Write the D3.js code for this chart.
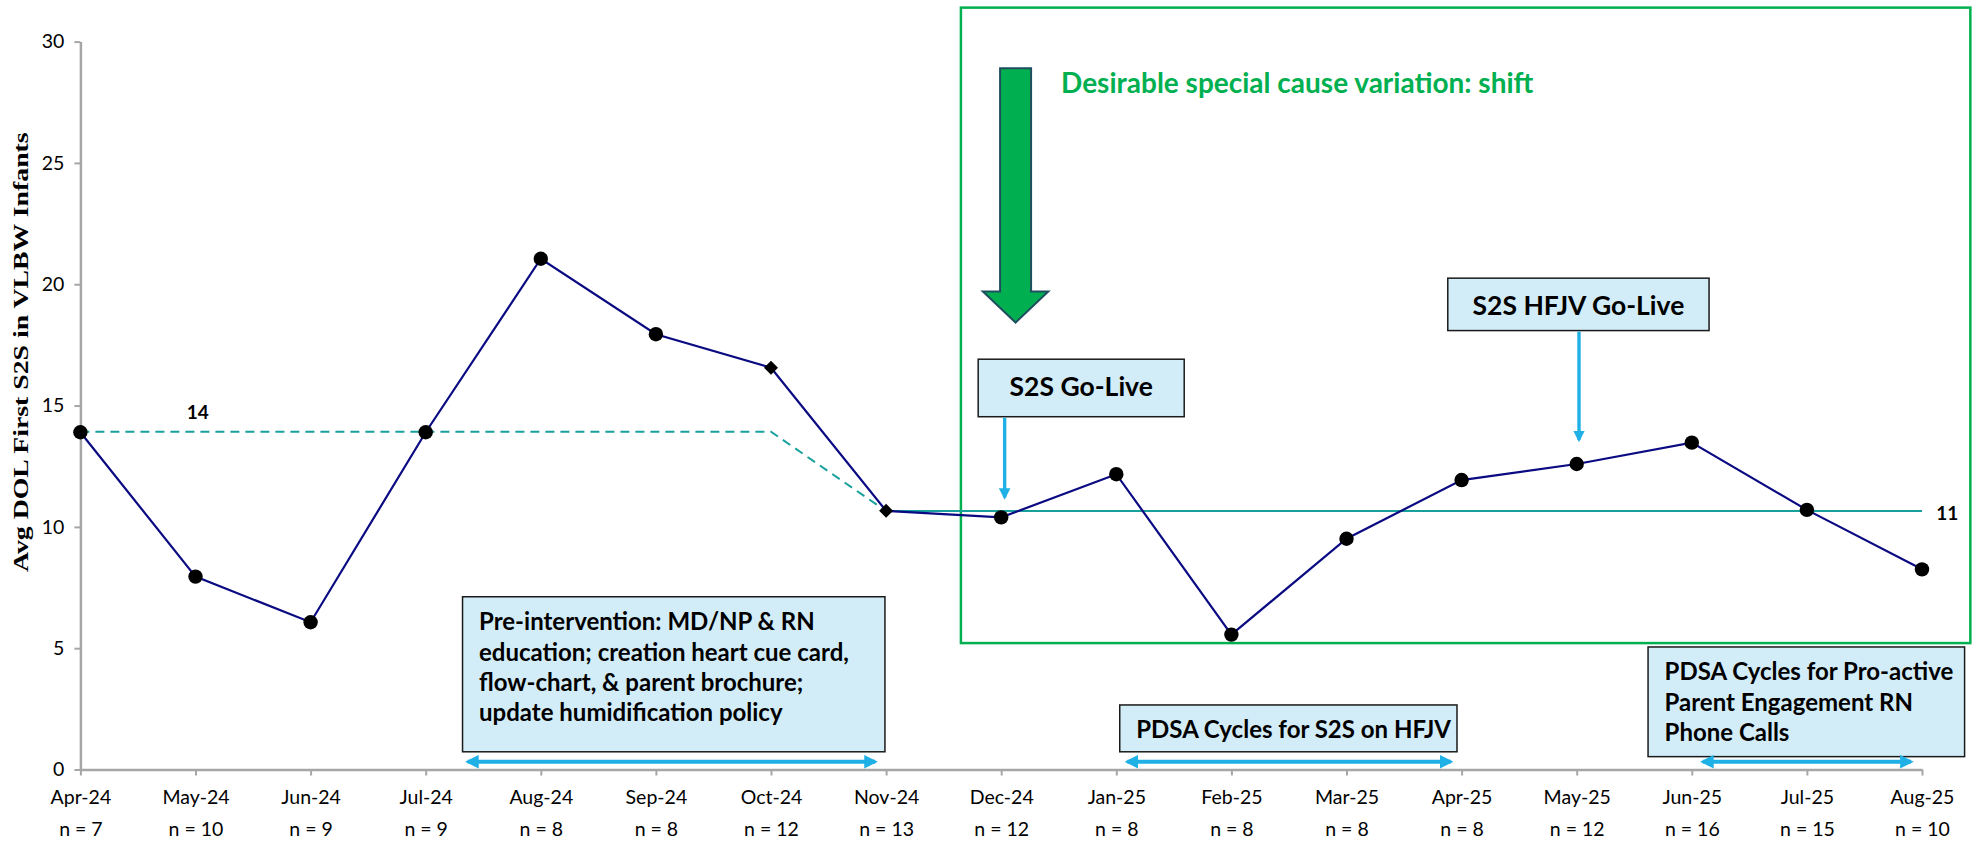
<!DOCTYPE html>
<html>
<head>
<meta charset="utf-8">
<script src="https://cdn.jsdelivr.net/npm/d3@7"></script>
<style>
  body { margin: 0; background: #fff; }
  text { font-family: Lato, "Open Sans", sans-serif; }
</style>
</head>
<body>
<script>
// monthly data
var months = ['Apr-24', 'May-24', 'Jun-24', 'Jul-24', 'Aug-24', 'Sep-24', 'Oct-24', 'Nov-24', 'Dec-24',
  'Jan-25', 'Feb-25', 'Mar-25', 'Apr-25', 'May-25', 'Jun-25', 'Jul-25', 'Aug-25'];
var counts = [7, 10, 9, 9, 8, 8, 12, 13, 12, 8, 8, 8, 8, 12, 16, 15, 10];
var avgDol = [13.9, 7.95, 6.07, 13.9, 21.05, 17.94, 16.56, 10.66, 10.39, 12.17, 5.56, 9.51, 11.93, 12.59, 13.47, 10.7, 8.25];
var diamondMonths = ['Oct-24', 'Nov-24'];

// center lines
var preMean = 13.92, preLabel = '14';
var postMean = 10.65, postLabel = '11';
var yTicks = [0, 5, 10, 15, 20, 25, 30];

var width = 1978, height = 845;
var margin = { left: 80.4, top: 41.6, right: 56, bottom: 75.5 };
var W = width - margin.left - margin.right;
var H = height - margin.top - margin.bottom;

var svg = d3.select('body').append('svg').attr('width', width).attr('height', height);
var g = svg.append('g').attr('transform', 'translate(' + margin.left + ',' + margin.top + ')');

var x = d3.scaleLinear().domain([0, months.length - 1]).range([0, W]);
var y = d3.scaleLinear().domain([0, 30]).range([H, 0]);

var lightBlue = '#1fb0e6';
var boxFill = '#d3edf8';
var green = '#00b050';

svg.append('defs').append('marker')
  .attr('id', 'head').attr('viewBox', '0 0 10 10').attr('refX', 8).attr('refY', 5)
  .attr('markerWidth', 3.4).attr('markerHeight', 3.6).attr('markerUnits', 'strokeWidth')
  .attr('orient', 'auto-start-reverse')
  .append('path').attr('d', 'M0,0L10,5L0,10Z').attr('fill', lightBlue);

// axes
var yAxis = g.append('g').call(d3.axisLeft(y).tickValues(yTicks).tickSize(6).tickPadding(10).tickSizeOuter(0));
var xAxis = g.append('g').attr('transform', 'translate(0,' + H + ')')
  .call(d3.axisBottom(x).tickValues(d3.range(months.length)).tickFormat(function (i) { return months[i]; })
    .tickSize(6).tickPadding(14.5).tickSizeOuter(0));
[yAxis, xAxis].forEach(function (a) {
  a.select('.domain').attr('stroke', '#a6a6a6').attr('stroke-width', 2.5);
  a.selectAll('.tick line').attr('stroke', '#a6a6a6').attr('stroke-width', 2);
  a.selectAll('.tick text').attr('font-size', 19.5).attr('fill', '#000').style('font-family', 'Lato');
});

xAxis.selectAll('.tick').append('text')
  .attr('y', 53).attr('dy', '0.71em').attr('fill', '#000').attr('font-size', 19.5)
  .style('font-family', 'Lato')
  .text(function (i) { return 'n = ' + counts[i]; });

// y title: stretched to the length seen in the original
var yTitle = svg.append('text')
  .attr('font-size', 20).attr('font-weight', 'bold')
  .style('font-family', '"Liberation Serif", serif')
  .text('Avg DOL First S2S in VLBW Infants');
var natLen = yTitle.node().getComputedTextLength();
yTitle.attr('transform', 'translate(28,572) rotate(-90) scale(' + (440 / natLen) + ',1)');

// green shift box
g.append('rect')
  .attr('x', x(7.65)).attr('y', y(31.4))
  .attr('width', x(16.42) - x(7.65)).attr('height', y(5.21) - y(31.4))
  .attr('fill', 'none').attr('stroke', green).attr('stroke-width', 2.5);

var ax = x(8.125);
g.append('path')
  .attr('d', 'M' + (ax - 15.5) + ',' + y(28.9) + 'H' + (ax + 15.5) + 'V' + y(19.7) + 'H' + (ax + 32.7) +
    'L' + ax + ',' + y(18.42) + 'L' + (ax - 32.7) + ',' + y(19.7) + 'H' + (ax - 15.5) + 'Z')
  .attr('fill', green).attr('stroke', '#1f4e5f').attr('stroke-width', 2);

g.append('text')
  .attr('x', x(8.52)).attr('y', y(27.9))
  .attr('font-size', 28).attr('font-weight', 'bold').attr('fill', green)
  .text('Desirable special cause variation: shift');

// center lines
g.append('path')
  .datum([[0, preMean], [6, preMean], [7, postMean]])
  .attr('d', d3.line().x(function (d) { return x(d[0]); }).y(function (d) { return y(d[1]); }))
  .attr('fill', 'none').attr('stroke', '#17a09c').attr('stroke-width', 2).attr('stroke-dasharray', '9,6');
g.append('path')
  .datum([[7, postMean], [months.length - 1, postMean]])
  .attr('d', d3.line().x(function (d) { return x(d[0]); }).y(function (d) { return y(d[1]); }))
  .attr('fill', 'none').attr('stroke', '#17a09c').attr('stroke-width', 2);

g.append('text').attr('x', x(1.02)).attr('y', y(14.44)).attr('text-anchor', 'middle')
  .attr('font-size', 19).attr('font-weight', 'bold').text(preLabel);
g.append('text').attr('x', x(16.22)).attr('y', y(10.28)).attr('text-anchor', 'middle')
  .attr('font-size', 19).attr('font-weight', 'bold').text(postLabel);

// data line
var line = d3.line().x(function (d, i) { return x(i); }).y(function (d) { return y(d); });
g.append('path').datum(avgDol).attr('d', line)
  .attr('fill', 'none').attr('stroke', '#0a0a82').attr('stroke-width', 2.2);

var pts = avgDol.map(function (v, i) { return { m: months[i], v: v, i: i }; });
g.selectAll('.dot').data(pts.filter(function (d) { return diamondMonths.indexOf(d.m) < 0; }))
  .enter().append('circle')
  .attr('cx', function (d) { return x(d.i); }).attr('cy', function (d) { return y(d.v); })
  .attr('r', 7.2).attr('fill', '#000');
g.selectAll('.dia').data(pts.filter(function (d) { return diamondMonths.indexOf(d.m) >= 0; }))
  .enter().append('path')
  .attr('transform', function (d) { return 'translate(' + x(d.i) + ',' + y(d.v) + ')'; })
  .attr('d', 'M0,-7L7,0L0,7L-7,0Z').attr('fill', '#000');

// annotation boxes
var boxes = [
  { x0: 3.32, x1: 6.99, y0: 7.12, y1: 0.73, lines: ['Pre-intervention: MD/NP & RN', 'education; creation heart cue card,', 'flow-chart, & parent brochure;', 'update humidification policy'] },
  { x0: 9.03, x1: 11.96, y0: 2.66, y1: 0.73, lines: ['PDSA Cycles for S2S on HFJV'] },
  { x0: 13.62, x1: 16.37, y0: 5.05, y1: 0.53, lines: ['PDSA Cycles for Pro-active', 'Parent Engagement RN', 'Phone Calls'] }
];
boxes.forEach(function (b) {
  g.append('rect').attr('x', x(b.x0)).attr('y', y(b.y0))
    .attr('width', x(b.x1) - x(b.x0)).attr('height', y(b.y1) - y(b.y0))
    .attr('fill', boxFill).attr('stroke', '#1a1a1a').attr('stroke-width', 1.5);
  var t = g.append('text').attr('font-size', 24).attr('font-weight', 'bold').attr('fill', '#000');
  b.lines.forEach(function (l, k) {
    t.append('tspan').attr('x', x(b.x0) + 16.5).attr('y', y(b.y0) + 33.5 + k * 30.3).text(l);
  });
});

var spans = [[3.27, 7.0, 0.32], [9.0, 12.0, 0.32], [14.0, 16.0, 0.32]];
spans.forEach(function (s) {
  g.append('line').attr('x1', x(s[0]) + 11).attr('x2', x(s[1]) - 11).attr('y1', y(s[2])).attr('y2', y(s[2]))
    .attr('stroke', lightBlue).attr('stroke-width', 4)
    .attr('marker-start', 'url(#head)').attr('marker-end', 'url(#head)');
});

// go-live callouts
var callouts = [
  { x0: 7.8, x1: 9.59, y0: 16.91, y1: 14.54, at: 8.03, tip: 10.8, label: 'S2S Go-Live' },
  { x0: 11.88, x1: 14.15, y0: 20.25, y1: 18.09, at: 13.02, tip: 13.17, label: 'S2S HFJV Go-Live' }
];
callouts.forEach(function (c) {
  g.append('rect').attr('x', x(c.x0)).attr('y', y(c.y0))
    .attr('width', x(c.x1) - x(c.x0)).attr('height', y(c.y1) - y(c.y0))
    .attr('fill', boxFill).attr('stroke', '#1a1a1a').attr('stroke-width', 1.5);
  g.append('text').attr('x', (x(c.x0) + x(c.x1)) / 2).attr('y', y(c.y0) + 36.5)
    .attr('text-anchor', 'middle').attr('font-size', 26.5).attr('font-weight', 'bold').text(c.label);
  g.append('line').attr('x1', x(c.at)).attr('x2', x(c.at)).attr('y1', y(c.y1) + 1).attr('y2', y(c.tip) - 10)
    .attr('stroke', lightBlue).attr('stroke-width', 3.4).attr('marker-end', 'url(#head)');
});
</script>
</body>
</html>
